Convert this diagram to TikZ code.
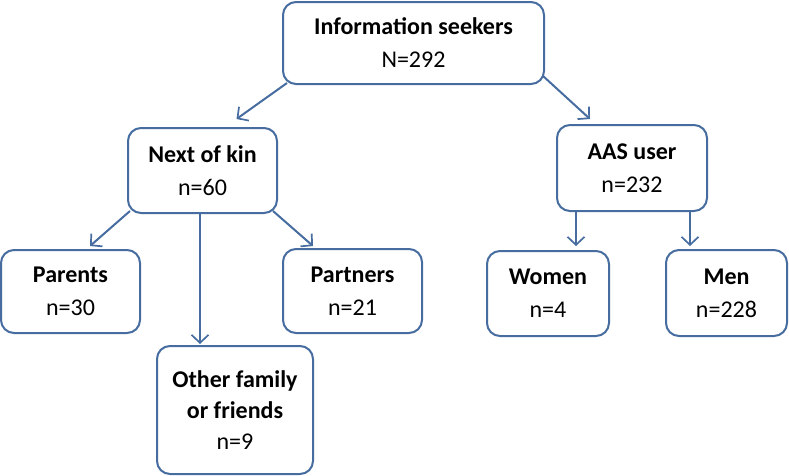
\documentclass[tikz,border=0pt]{standalone}
\usepackage{fontspec}
\setmainfont{Carlito}
\usepackage{tikz}
\usetikzlibrary{calc,positioning,arrows.meta}
\definecolor{boxblue}{RGB}{70,108,160}
\tikzset{
  >={Straight Barb[length=8pt,width=17pt,line width=1.7pt]},
  groupbox/.style={draw=boxblue, line width=2pt, rounded corners=13pt, fill=white,
                   align=center, font=\fontsize{24}{33}\selectfont, inner sep=0pt},
  line/.style={draw=boxblue, line width=2pt, ->}
}
\newcommand{\groupbox}[5]{node (#1) [groupbox, minimum width=#2pt, minimum height=#3pt] at (#4) {#5}}

\begin{document}
\begin{tikzpicture}[x=1pt,y=-1pt]
  \useasboundingbox (0,0) rectangle (789,475);

  % Draw diagram elements
  \path \groupbox{seekers}{261}{82}{413.5,43}{\textbf{Information seekers}\\N=292};
  \path \groupbox{kin}{149}{85}{202.5,170.5}{\textbf{Next of kin}\\n=60};
  \path \groupbox{parents}{139}{83}{70.5,291.5}{\textbf{Parents}\\n=30};
  \path \groupbox{partners}{139}{84}{352.5,291}{\textbf{Partners}\\n=21};
  \path \groupbox{other}{156}{128}{235,410}{\textbf{Other family}\\[-2pt]\textbf{or friends}\\[-2pt]n=9};
  \path \groupbox{aas}{150}{86}{632,168}{\textbf{AAS user}\\n=232};
  \path \groupbox{women}{122}{85}{548,293.5}{\textbf{Women}\\n=4};
  \path \groupbox{men}{121}{86}{726.5,293}{\textbf{Men}\\n=228};

  % Draw arrows between elements
  \path [line] ($(seekers.south west)+(5,-2)$) -- ($(kin.north)+(34,-8)$);
  \path [line] ($(seekers.south east)+(-2,-9)$) -- ($(aas.north)+(-42,-5)$);
  \path [line] ($(kin.south west)+(3,-3)$) -- ($(parents.north)+(19.5,-3)$);
  \path [line] ($(kin.south east)+(-5,-3)$) -- ($(partners.north)+(-39.5,-2)$);
  \path [line] ($(kin.south)+(-2.5,0)$) -- ($(other.north)+(-35,-1)$);
  \path [line] ($(aas.south)+(-56,0)$) -- ($(women.north)+(28,-4)$);
  \path [line] ($(aas.south)+(58,0)$) -- ($(men.north)+(-36.5,-3)$);
\end{tikzpicture}
\end{document}
